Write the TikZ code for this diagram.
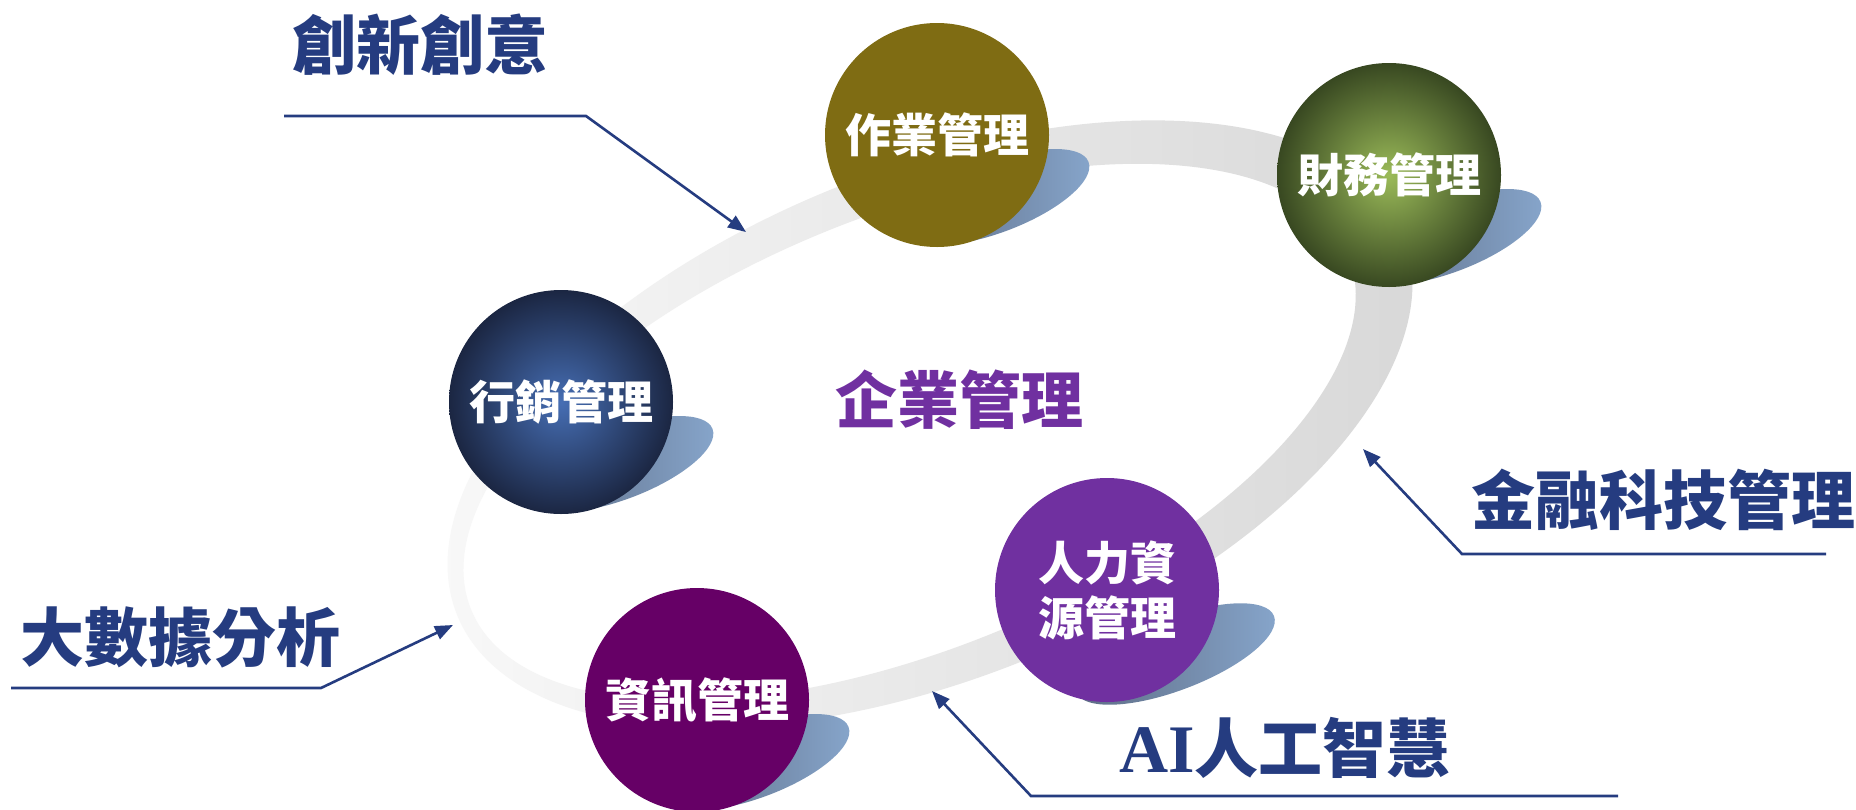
\documentclass[tikz,border=0pt]{standalone}
\usepackage{fontspec}
\newfontfamily\cjk{Noto Sans CJK TC}
\newfontfamily\serifb{Liberation Serif}
\usetikzlibrary{arrows.meta}
\definecolor{navy}{RGB}{37,60,128}
\definecolor{ringL}{RGB}{249,249,249}
\definecolor{ringR}{RGB}{215,215,215}
\definecolor{shD}{RGB}{92,106,130}
\definecolor{shL}{RGB}{135,166,204}
\definecolor{olive}{RGB}{127,108,19}
\definecolor{grIn}{RGB}{155,187,89}
\definecolor{grOut}{RGB}{56,72,33}
\definecolor{blIn}{RGB}{70,110,180}
\definecolor{blOut}{RGB}{27,38,66}
\definecolor{purp}{RGB}{112,48,160}
\definecolor{plum}{RGB}{102,0,102}
\begin{document}
\begin{tikzpicture}[x=0.5pt,y=-0.5pt,
  ball/.style={circle, minimum size=112pt, inner sep=0pt, text=white, align=center,
    font=\cjk\bfseries\fontsize{23}{27.5}\selectfont},
  lead/.style={draw=navy, line width=1.3pt, -{Triangle[length=9pt,width=7pt]}},
  lbl/.style={text=navy, inner sep=0pt, font=\cjk\bfseries\fontsize{32}{38}\selectfont},
  shad/.style={left color=shD, right color=shL}]
\useasboundingbox (0,0) rectangle (1856,809);
\fill[white] (0,0) rectangle (1856,809);

% ring
\shade[rotate around={22:(930,424)}, even odd rule, left color=ringL, right color=ringR]
  (930,424) ellipse [x radius=510, y radius=254.5]
  (908,424) ellipse [x radius=473, y radius=217.5];

% shadows
\shade[shad, rotate around={21:(997,197)}] (997,197) ellipse [x radius=98, y radius=35];
\shade[shad, rotate around={21:(1449,237)}] (1449,237) ellipse [x radius=98, y radius=35];
\shade[shad, rotate around={21:(621,464)}] (621,464) ellipse [x radius=98, y radius=35];
\shade[shad, rotate around={21:(1175,654)}] (1175,654) ellipse [x radius=106, y radius=36];
\shade[shad, rotate around={21:(757,762)}] (757,762) ellipse [x radius=98, y radius=35];

% circles
\node[ball, fill=olive] (ops) at (937,135) {作業管理};
\node[ball, inner color=grIn, outer color=grOut] (fin) at (1389,175) {財務管理};
\node[ball, inner color=blIn, outer color=blOut] (mkt) at (561,402) {行銷管理};
\node[ball, fill=purp] (hr) at (1107,590) {人力資\\源管理};
\node[ball, fill=plum] (info) at (697,700) {資訊管理};

% centre title
\node[inner sep=0pt, text=purp, font=\cjk\bfseries\fontsize{31}{36}\selectfont] (ent) at (959,400) {企業管理};

% labels
\node[lbl] (inno) at (420,45) {創新創意};
\node[lbl] (big) at (180,637) {大數據分析};
\node[lbl] (fintech) at (1663,500) {金融科技管理};
\node[lbl] (ai) at (1285,748) {{\serifb\bfseries\fontsize{34}{38}\selectfont AI}人工智慧};

% leaders
\coordinate (l1a) at (284,116); \coordinate (l1b) at (586,116); \coordinate (l1t) at (746,232);
\coordinate (l2a) at (11,688);  \coordinate (l2b) at (321,688); \coordinate (l2t) at (453,625);
\coordinate (l3a) at (1826,554); \coordinate (l3b) at (1462,554); \coordinate (l3t) at (1363,449);
\coordinate (l4a) at (1618,796); \coordinate (l4b) at (1031,796); \coordinate (l4t) at (932,691);
\draw[lead] (l1a) -- (l1b) -- (l1t);
\draw[lead] (l2a) -- (l2b) -- (l2t);
\draw[lead] (l3a) -- (l3b) -- (l3t);
\draw[lead] (l4a) -- (l4b) -- (l4t);
\end{tikzpicture}
\end{document}
